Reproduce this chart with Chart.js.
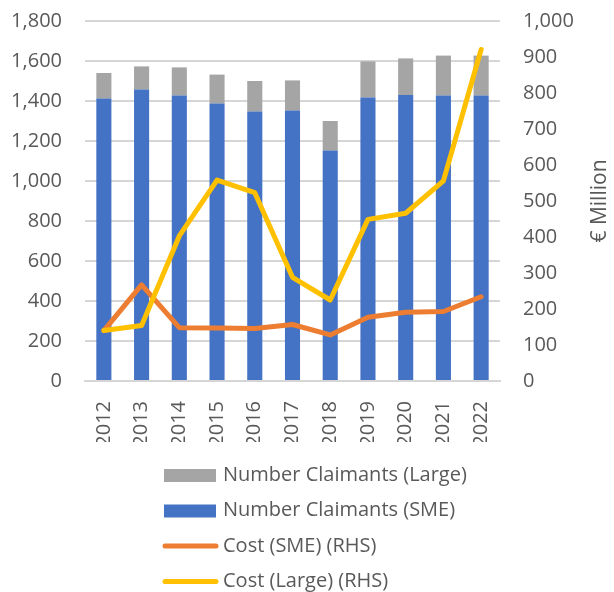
<!DOCTYPE html>
<html>
<head>
<meta charset="utf-8">
<script src="https://cdn.jsdelivr.net/npm/chart.js@4/dist/chart.umd.min.js"></script>
<style>
  html, body { margin: 0; padding: 0; background: #fff; }
  #wrap { width: 614px; height: 592px; }
</style>
</head>
<body>
<div id="wrap"><canvas id="claims-chart"></canvas></div>
<script>
var years = ['2012', '2013', '2014', '2015', '2016', '2017', '2018', '2019', '2020', '2021', '2022'];
var claimantsSme = [1412, 1457, 1427, 1387, 1347, 1352, 1152, 1417, 1430, 1427, 1427];
var claimantsLarge = [128, 116, 141, 145, 153, 151, 148, 181, 183, 200, 200];
var costSme = [140, 267, 148, 147, 146, 157, 128, 177, 191, 193, 234];
var costLarge = [140, 154, 403, 558, 523, 288, 225, 449, 466, 556, 921];

var textColor = '#595959';
var gridColor = '#D6D6D6';
var fontFamily = '"Open Sans", sans-serif';

// legend drawn by hand: one item per row, in this order
var legendItems = [
	{ label: 'Number Claimants (Large)', color: '#A5A5A5', type: 'box' },
	{ label: 'Number Claimants (SME)', color: '#4472C4', type: 'box' },
	{ label: 'Cost (SME) (RHS)', color: '#ED7D31', type: 'line' },
	{ label: 'Cost (Large) (RHS)', color: '#FFC000', type: 'line' }
];

var customLegend = {
	id: 'customLegend',
	afterDraw: function (chart) {
		var ctx = chart.ctx;
		ctx.save();
		ctx.font = '20px ' + fontFamily;
		ctx.fillStyle = textColor;
		ctx.textBaseline = 'middle';
		legendItems.forEach(function (item, i) {
			var y = 475 + i * 35.5;
			if (item.type == 'box') {
				ctx.fillStyle = item.color;
				ctx.fillRect(164, y - 6, 52, 13);
			} else {
				ctx.strokeStyle = item.color;
				ctx.lineWidth = 5;
				ctx.lineCap = 'round';
				ctx.beginPath();
				ctx.moveTo(165, y);
				ctx.lineTo(216, y);
				ctx.stroke();
			}
			ctx.fillStyle = textColor;
			ctx.fillText(item.label, 223, y);
		});

		// right axis title, reading upwards
		var area = chart.chartArea;
		ctx.translate(600, (area.top + area.bottom) / 2);
		ctx.rotate(-Math.PI / 2);
		ctx.textAlign = 'center';
		ctx.font = '21px ' + fontFamily;
		ctx.fillText('€ Million', 0, 0);
		ctx.restore();
	}
};

function noVertPadding(scale) {
	scale.paddingTop = 0;
	scale.paddingBottom = 0;
}

new Chart('claims-chart', {
	type: 'bar',
	data: {
		labels: years,
		datasets: [
			{
				label: 'Cost (Large) (RHS)',
				type: 'line',
				data: costLarge,
				yAxisID: 'y2',
				borderColor: '#FFC000',
				borderWidth: 5,
				pointRadius: 0,
				borderJoinStyle: 'round',
				borderCapStyle: 'round',
				order: 0
			},
			{
				label: 'Cost (SME) (RHS)',
				type: 'line',
				data: costSme,
				yAxisID: 'y2',
				borderColor: '#ED7D31',
				borderWidth: 5,
				pointRadius: 0,
				borderJoinStyle: 'round',
				borderCapStyle: 'round',
				order: 1
			},
			{
				label: 'Number Claimants (SME)',
				data: claimantsSme,
				backgroundColor: '#4472C4',
				stack: 'claims',
				barPercentage: 0.4,
				categoryPercentage: 1,
				order: 2
			},
			{
				label: 'Number Claimants (Large)',
				data: claimantsLarge,
				backgroundColor: '#A5A5A5',
				stack: 'claims',
				barPercentage: 0.4,
				categoryPercentage: 1,
				order: 2
			}
		]
	},
	options: {
		responsive: true,
		maintainAspectRatio: false,
		animation: false,
		layout: { padding: { top: 21, bottom: 150, left: 0, right: 0 } },
		plugins: {
			legend: { display: false },
			tooltip: { enabled: false }
		},
		scales: {
			x: {
				stacked: true,
				grid: { display: false },
				border: { display: true, color: gridColor, width: 2 },
				ticks: {
					color: textColor,
					font: { family: fontFamily, size: 20 },
					minRotation: 90,
					maxRotation: 90,
					padding: 12
				},
				afterFit: function (scale) { scale.height = 61; }
			},
			y: {
				position: 'left',
				stacked: true,
				min: 0,
				max: 1800,
				grid: { display: true, color: gridColor, lineWidth: 2, drawTicks: false },
				border: { display: false },
				ticks: {
					stepSize: 200,
					color: textColor,
					font: { family: fontFamily, size: 20 },
					padding: 23,
					callback: function (v) { return v.toLocaleString('en-US'); }
				},
				afterFit: function (scale) {
					scale.width = 85;
					noVertPadding(scale);
				}
			},
			y2: {
				position: 'right',
				min: 0,
				max: 1000,
				grid: { display: false, drawTicks: false },
				border: { display: false },
				ticks: {
					stepSize: 100,
					color: textColor,
					font: { family: fontFamily, size: 20 },
					padding: 23,
					callback: function (v) { return v.toLocaleString('en-US'); }
				},
				afterFit: function (scale) {
					scale.width = 114;
					noVertPadding(scale);
				}
			}
		}
	},
	plugins: [customLegend]
});
</script>
</body>
</html>
